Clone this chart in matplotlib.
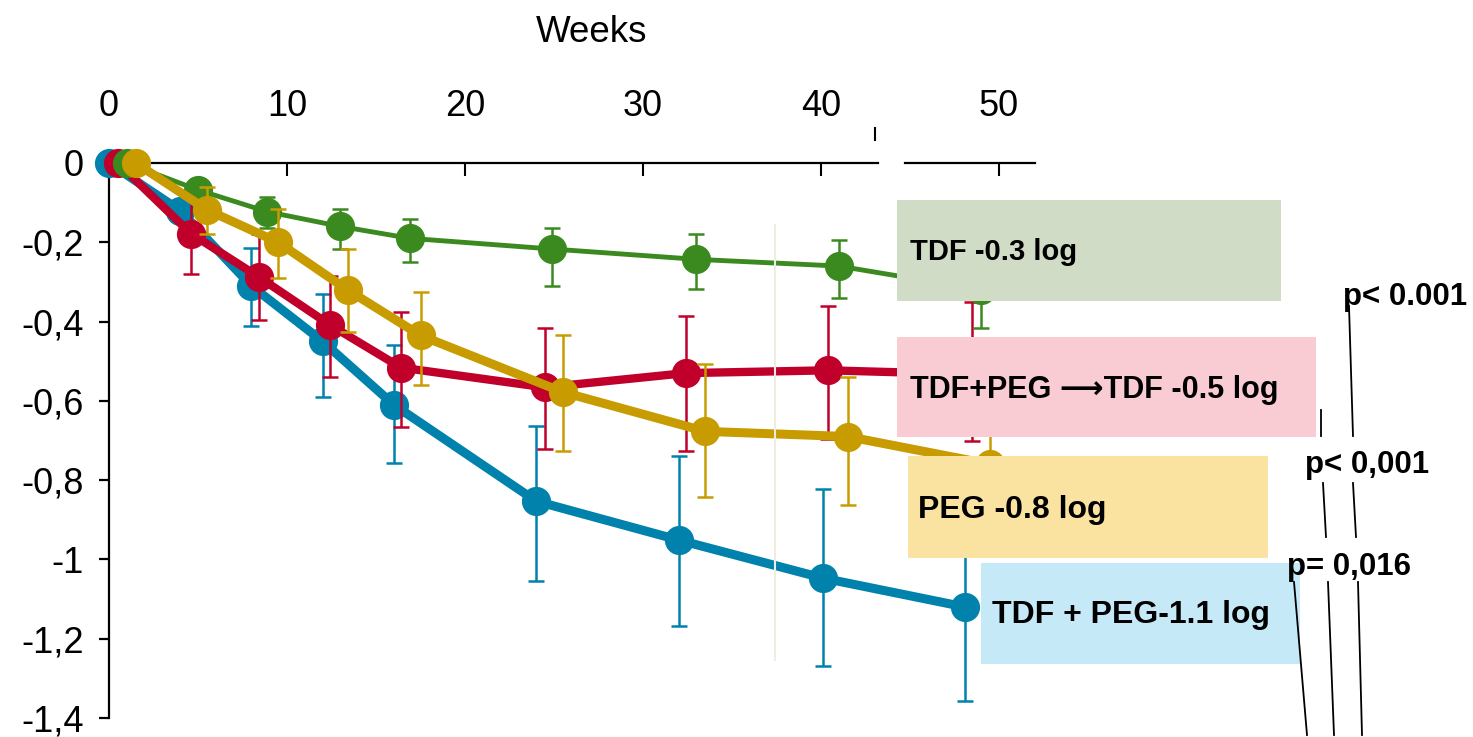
import matplotlib
matplotlib.use("Agg")
import matplotlib.pyplot as plt
from matplotlib.patches import Rectangle
from matplotlib.lines import Line2D

plt.rcParams['font.family'] = ['Liberation Sans', 'DejaVu Sans']

# data (weeks, log change, error bar top / bottom)
weeks_blue = [0, 4, 8, 12, 16, 24, 32, 40.1, 48.1]
blue = [0, -0.12, -0.31, -0.45, -0.61, -0.853, -0.951, -1.047, -1.12]
blue_top = [0, -0.10, -0.214, -0.33, -0.46, -0.664, -0.74, -0.823, -0.90]
blue_bot = [0, -0.14, -0.41, -0.59, -0.757, -1.054, -1.167, -1.268, -1.358]

weeks_red = [0.5, 4.6, 8.4, 12.4, 16.4, 24.5, 32.4, 40.4, 48.5]
red = [0, -0.178, -0.287, -0.408, -0.516, -0.566, -0.53, -0.523, -0.533]
red_top = [0, -0.08, -0.18, -0.285, -0.375, -0.415, -0.385, -0.36, -0.35]
red_bot = [0, -0.28, -0.395, -0.54, -0.667, -0.722, -0.727, -0.697, -0.70]

weeks_grn = [1, 5, 8.9, 13, 16.9, 24.9, 33, 41, 49]
grn = [0, -0.068, -0.123, -0.16, -0.19, -0.217, -0.243, -0.26, -0.32]
grn_top = [0, -0.04, -0.085, -0.115, -0.14, -0.163, -0.18, -0.195, -0.25]
grn_bot = [0, -0.095, -0.163, -0.218, -0.25, -0.31, -0.317, -0.34, -0.415]

weeks_yel = [1.5, 5.5, 9.5, 13.4, 17.5, 25.5, 33.5, 41.5, 49.5]
yel = [0, -0.118, -0.2, -0.32, -0.435, -0.578, -0.677, -0.69, -0.76]
yel_top = [0, -0.06, -0.116, -0.216, -0.325, -0.433, -0.508, -0.54, -0.65]
yel_bot = [0, -0.18, -0.29, -0.427, -0.56, -0.727, -0.843, -0.863, -0.88]

xticks = [0, 10, 20, 30, 40, 50]
yticks = [0, -0.2, -0.4, -0.6, -0.8, -1.0, -1.2, -1.4]
ytick_labels = ['0', '-0,2', '-0,4', '-0,6', '-0,8', '-1', '-1,2', '-1,4']

labels = ['TDF -0.3 log', 'TDF+PEG \u27f6TDF -0.5 log', 'PEG -0.8 log', 'TDF + PEG-1.1 log']
pvalues = ['p< 0.001', 'p< 0,001', 'p= 0,016']

W, H = 1473, 737


def fx(x):
    return x / W


def fy(y):
    return 1 - y / H


fig = plt.figure(figsize=(W / 100, H / 100), dpi=100)
ax = fig.add_axes([fx(109), fy(718), (1035 - 109) / W, (718 - 163) / H])
ax.set_xlim(0, 926 / 17.8)
ax.set_ylim(-1.4, 0)

series = [
    (weeks_blue, blue, blue_top, blue_bot, '#0082AD', 6.5),
    (weeks_red, red, red_top, red_bot, '#C0002B', 6.0),
    (weeks_grn, grn, grn_top, grn_bot, '#3B8A1F', 3.5),
    (weeks_yel, yel, yel_top, yel_bot, '#C89C00', 6.5),
]
z = 3
for wk, val, top, bot, col, lw in series:
    err = [[v - b for v, b in zip(val, bot)], [t - v for v, t in zip(val, top)]]
    ax.errorbar(wk, val, yerr=err, fmt='none', ecolor=col, elinewidth=1.8,
                capsize=6, capthick=1.8, zorder=z, clip_on=False)
    ax.plot(wk, val, color=col, lw=lw, marker='o', markersize=20,
            solid_joinstyle='round', zorder=z + 0.5, clip_on=False)
    z += 1

# axes styling
for s in ['right', 'bottom', 'top']:
    ax.spines[s].set_visible(False)
ax.spines['left'].set_linewidth(1.6)
ax.xaxis.tick_top()
ax.set_xticks(xticks)
ax.set_yticks(yticks)
ax.set_yticklabels(ytick_labels)
ax.tick_params(axis='x', direction='in', length=9, width=1.5, pad=28, labelsize=26)
ax.tick_params(axis='y', direction='out', length=7, width=1.6, pad=11, labelsize=26)
fig.text(fx(592), fy(32), 'Weeks', fontsize=26.5, ha='center', va='center')

# broken top axis
ax.plot([0, (878 - 109) / 926], [1, 1], transform=ax.transAxes, color='black',
        lw=1.6, clip_on=False, zorder=2)
ax.plot([(905 - 109) / 926, 1], [1, 1], transform=ax.transAxes, color='black',
        lw=1.6, clip_on=False, zorder=2)
fig.add_artist(Line2D([fx(875), fx(875)], [fy(128), fy(140)], color='black', lw=1.5))

# faint seam line
fig.add_artist(Line2D([fx(775), fx(775)], [fy(225), fy(660)], color='#efece4', lw=1.5, zorder=1))

# label boxes
boxes = [(897, 200, 1281, 301, '#D0DCC6', 910, 252, 21),
         (897, 337, 1316, 437, '#F9CBD3', 910, 390, 22),
         (908, 456, 1268, 558, '#FAE3A0', 918, 510, 23),
         (981, 563, 1300, 664, '#C6E9F8', 992, 615, 23)]
for (x0, y0, x1, y1, c, tx, ty, fs), lab in zip(boxes, labels):
    fig.add_artist(Rectangle((fx(x0), fy(y1)), (x1 - x0) / W, (y1 - y0) / H,
                             facecolor=c, edgecolor='none', zorder=10))
    fig.text(fx(tx), fy(ty), lab, fontsize=fs, fontweight='bold', va='center',
             ha='left', zorder=11)

# p-values and bracket lines
for (px, py), p in zip([(1343, 305), (1305, 473), (1287, 575)], pvalues):
    fig.text(fx(px), fy(py), p, fontsize=22.5, fontweight='bold', va='baseline',
             ha='left', zorder=11)

segs = [((1349, 306), (1353, 436)), ((1321, 410), (1321, 436)),
        ((1323, 483), (1326, 537)), ((1353, 483), (1356, 537)),
        ((1294, 582), (1307, 735)), ((1328, 582), (1334, 735)),
        ((1358, 582), (1362, 735))]
for (a, b) in segs:
    fig.add_artist(Line2D([fx(a[0]), fx(b[0])], [fy(a[1]), fy(b[1])],
                          color='black', lw=1.3, zorder=11))

fig.savefig('out.png', dpi=100)
